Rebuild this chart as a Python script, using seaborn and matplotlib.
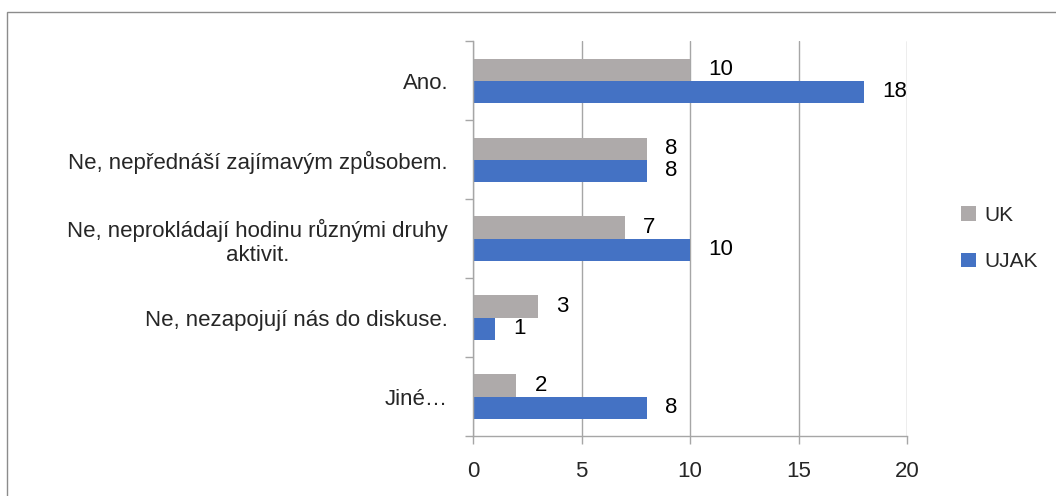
import matplotlib.pyplot as plt
import pandas as pd
import seaborn as sns
from matplotlib.patches import Rectangle

categories = [
    "Ano.",
    "Ne, nepřednáší zajímavým způsobem.",
    "Ne, neprokládají hodinu různými druhy\naktivit.",
    "Ne, nezapojují nás do diskuse.",
    "Jiné…",
]
uk = [10, 8, 7, 3, 2]
ujak = [18, 8, 10, 1, 8]
series = ["UK", "UJAK"]
colors = ["#AEAAAA", "#4472C4"]

df = pd.DataFrame(
    {
        "kategorie": categories * 2,
        "hodnota": uk + ujak,
        "skupina": ["UK"] * len(uk) + ["UJAK"] * len(ujak),
    }
)

sns.set_style("white")
plt.rcParams["font.family"] = ["Liberation Sans", "DejaVu Sans"]
fs = 16

fig = plt.figure(figsize=(10.56, 4.96), dpi=100)
ax = fig.add_axes([0.448, 0.121, 0.411, 0.796])

sns.barplot(
    data=df,
    x="hodnota",
    y="kategorie",
    hue="skupina",
    hue_order=series,
    order=categories,
    palette=colors,
    width=0.56,
    orient="h",
    saturation=1,
    linewidth=0,
    ax=ax,
)

for cont in ax.containers:
    ax.bar_label(cont, padding=13, fontsize=fs, color="black")

ax.set_xlim(0, 20)
ax.set_ylim(len(categories) - 0.5, -0.5)
ax.set_xticks([0, 5, 10, 15, 20])
ax.xaxis.grid(True, color="#A6A6A6", linewidth=1)
ax.set_axisbelow(True)
ax.set_xlabel("")
ax.set_ylabel("")

# category labels at centres, tick marks at category boundaries
ax.set_yticks(range(len(categories)))
ax.set_yticklabels(categories, multialignment="center")
ax.set_yticks([i - 0.5 for i in range(len(categories) + 1)], minor=True)
ax.tick_params(axis="y", which="major", length=0, pad=18, labelsize=fs)
ax.tick_params(axis="y", which="minor", length=6, color="#A6A6A6", width=1, left=True)
ax.tick_params(axis="x", length=6, color="#A6A6A6", width=1, labelsize=fs, pad=12, bottom=True)

for side in ["top", "right"]:
    ax.spines[side].set_visible(False)
for side in ["left", "bottom"]:
    ax.spines[side].set_color("#A6A6A6")
    ax.spines[side].set_linewidth(1)

ax.legend(
    loc="center left",
    bbox_to_anchor=(1.125, 0.5),
    frameon=False,
    borderpad=0,
    borderaxespad=0,
    fontsize=15,
    handlelength=0.7,
    handleheight=0.7,
    handletextpad=0.4,
    labelspacing=1.3,
)

# chart frame: only top and left edges fall inside the image
fig.patches.append(
    Rectangle((0.0068, -0.1), 1.2, 1.1 - 0.0232, transform=fig.transFigure,
              fill=False, edgecolor="#8C8C8C", linewidth=1)
)

fig.savefig("out.png", dpi=100)
